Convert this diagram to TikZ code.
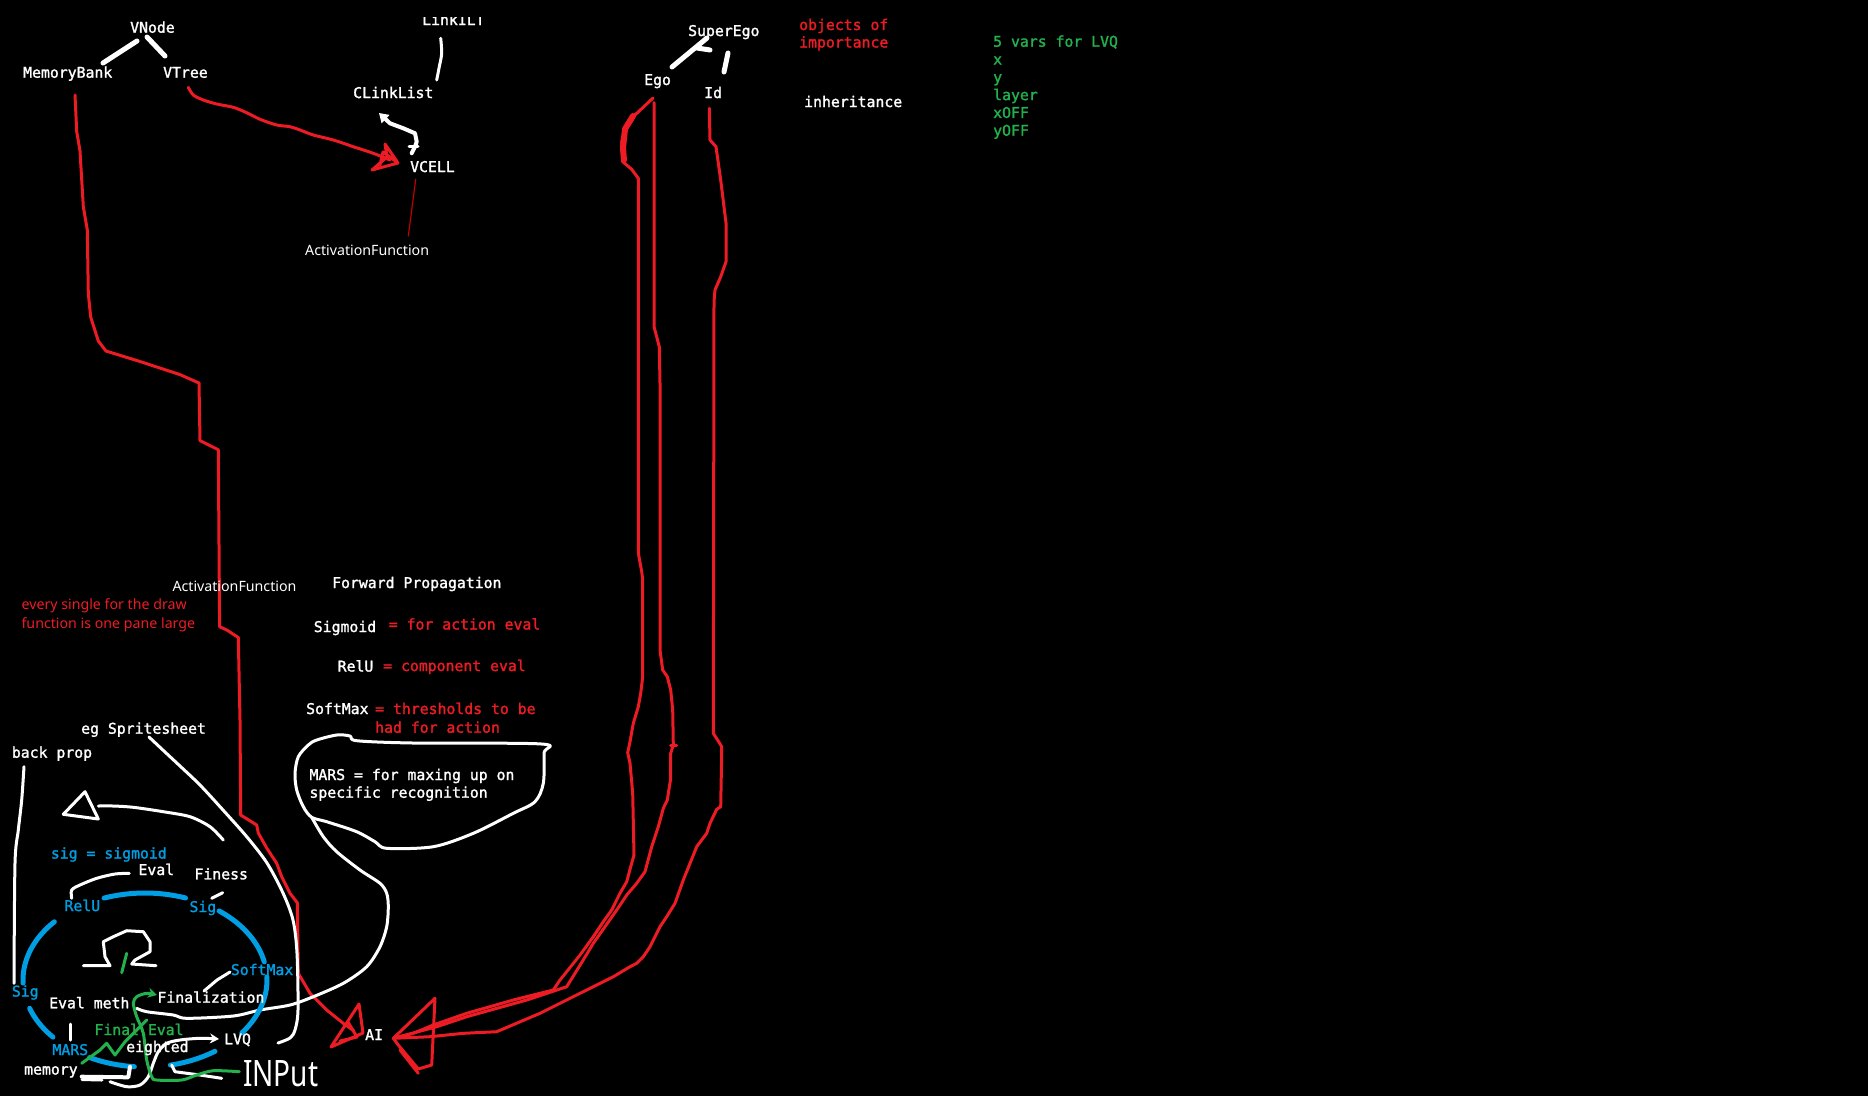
\documentclass[tikz,border=0pt]{standalone}
\usepackage{fontspec}
\newfontfamily\monof[FakeBold=1.6]{DejaVu Sans Mono}
\newfontfamily\sansf{Noto Sans}
\usetikzlibrary{arrows.meta}
\definecolor{redc}{RGB}{237,28,36}
\definecolor{bluec}{RGB}{0,158,226}
\definecolor{greenc}{RGB}{34,177,76}
\definecolor{dred}{RGB}{190,0,0}
\begin{document}
\begin{tikzpicture}[x=1pt,y=-1pt,line cap=round,line join=round,
  mt/.style={font=\monof\fontsize{14.8}{17}\selectfont,text=white,inner sep=0pt,anchor=base west},
  st/.style={font=\sansf\fontsize{14.2}{17}\selectfont,text=white,inner sep=0pt,anchor=base west},
  wl/.style={draw=white,line width=3pt},
  wt/.style={draw=white,line width=5pt},
  rl/.style={draw=redc,line width=3pt},
  bl/.style={draw=bluec,line width=5pt},
  gl/.style={draw=greenc,line width=3pt}]
\useasboundingbox (0,0) rectangle (1868,1096);
\fill[black] (0,0) rectangle (1868,1096);

% ---------- top tree ----------
\draw[wt] (103,63) -- (137,41);
\draw[wt] (147,37) -- (165,56);
\draw[wl] plot[smooth] coordinates {(440.7,38.3) (441.7,53.3) (439.3,66.7) (436.7,80)};
\draw[wl,line width=4pt,{Triangle[length=9pt,width=11pt]}-] (379,113) -- (390,123.3) -- (403.3,128.3) -- (415,133.3) -- (416.7,141.7) -- (415,146.7) -- (411.7,153.3);
\draw[wl] (409,146) -- (418,146);
% red VTree -> VCELL
\draw[rl] plot[smooth] coordinates {(188.3,87.3) (193.3,95) (203.3,100) (216.7,104) (233.3,107.3) (246.7,112.7) (260,119.3) (276.7,125) (290,126.7) (300,130) (313.3,135) (333.3,140) (353.3,146.7) (373.3,153.3) (390,160)};
\draw[rl] (398,163) -- (385,144) -- (387,157) -- (372,170) -- (398,163) -- (383,152) -- (380,165);
\draw[dred,line width=1.2pt] (415.7,179.3) -- (408.3,236);

% ---------- long red line from MemoryBank ----------
\draw[rl] (75,95) -- (76.7,131.4) -- (80,151) -- (83.3,206.5) -- (87.3,230) -- (88.3,293.5) -- (90.7,317) -- (98.3,341) -- (106,351) -- (140,361.5) -- (180,374.6) -- (199,383) -- (200,440.6) -- (218.3,449.7) -- (219.6,626.7) -- (226.8,630) -- (238.3,637.5) -- (240,720) -- (240.7,815) -- (256.7,825) -- (258.3,833) -- (266.7,848) -- (276.7,863.3) -- (281.7,876.7) -- (290,893.3) -- (297.3,902.7) -- (298.3,973.3) -- (310,993.3) -- (326.7,1010) -- (343.3,1023.3) -- (354,1031);
\draw[rl] (359,1004) -- (331,1047) -- (363,1033) -- cycle;
\draw[rl] (340,1041) -- (357,1037) -- (348,1022);

% ---------- SuperEgo / Ego / Id ----------
\draw[wt] (707,38) -- (672,67);
\draw[wt] (697,48) -- (710,50);
\draw[wt] (728,53) -- (724,72);
% line A
\draw[rl] (653,98) -- (635,115) -- (625,128) -- (621.7,141.7) -- (622.7,161.7) -- (631.7,169.3) -- (638.3,178.3) -- (638.3,553) -- (641.7,571.7) -- (642.7,580) -- (642.7,676.7) -- (640.7,693.3) -- (638.3,706.7) -- (633.3,723.3) -- (630,741.7) -- (627.7,752.7) -- (630,763.3) -- (632.7,793.3) -- (634,855) -- (630.7,866.7) -- (626.7,881.7) -- (620,893.3) -- (611.7,910) -- (603.3,921.7) -- (593.3,936.7) -- (580,955) -- (560,980) -- (553.3,990) -- (513.3,1000) -- (466.7,1013.3) -- (433.3,1025) -- (413.3,1033.3) -- (393.3,1038.3);
\draw[rl,line width=6pt] (633,116) -- (625,129) -- (623,148) -- (624,160);
% line B
\draw[rl] (654,102.7) -- (654,326.7) -- (659.3,346.7) -- (660,383.3) -- (660,650) -- (662.7,670) -- (667.3,676.7) -- (670.7,690) -- (672.7,710) -- (673.3,745) -- (670.7,753.3) -- (670.7,778.3) -- (667.3,800) -- (663.3,808.3) -- (658.3,826.7) -- (651.7,846.7) -- (645,871.7) -- (636.7,883.3) -- (626.7,895) -- (616.7,910) -- (605,926.7) -- (593.3,943.3) -- (582,962) -- (566.7,986.7) -- (526.7,1000) -- (466.7,1016.7) -- (436.7,1026.7) -- (393.3,1038.3);
\draw[rl] (670.7,745) -- (676.7,745);
% line C
\draw[rl] (709.3,108.3) -- (710,140) -- (716,146.7) -- (720.7,180) -- (726,223) -- (726,261.7) -- (720.7,276.7) -- (715,290) -- (714,301.7) -- (713.3,733.3) -- (719.3,742.7) -- (721.7,746.7) -- (721.7,753.3) -- (720.7,806.7) -- (716.7,809.3) -- (710,823.3) -- (706.7,833.3) -- (696.7,846.7) -- (683.3,880) -- (675,903.3) -- (666.7,916.7) -- (660,926.7) -- (650,946.7) -- (643.3,956.7) -- (636.7,963.3) -- (630,966.7) -- (613.3,976.7) -- (580,993.3) -- (540,1013.3) -- (496.7,1031.7) -- (463.3,1033.3) -- (430,1036.7) -- (393.3,1038.3);
\draw[rl] (393.3,1038.3) -- (435,998.3) -- (431.7,1065) -- (418.3,1069) -- (398.3,1045) -- (393.3,1038.3);
\draw[rl] (400,1050) -- (418.3,1073.3);

% ---------- bubble ----------
\draw[wl] plot[smooth cycle] coordinates {(316.7,740) (336.7,735) (350,736) (356.7,740.7) (413,743) (541.7,744) (544,753) (543.3,783.3) (535,801.7) (513.3,813.3) (473.3,833.3) (433.3,846.7) (386.7,848.3) (375,841.7) (356.7,831.7) (326.7,821.7) (311.7,817.3) (303.3,806.7) (296.7,790) (295,773.3) (298.3,756.7) (308.3,745)};
\draw[wl] plot[smooth] coordinates {(311.7,817.3) (323.3,836.7) (336.7,851.7) (360,870) (380,883.3) (386.7,893.3) (388.3,906.7) (386.7,926.7) (380,946.7) (366.7,966.7) (343.3,983.3) (313.3,996.7) (290,1005) (260,1010) (233.3,1016) (186.7,1018.3) (173.3,1015) (146.7,1011.7) (136.7,1008.3)};

% ---------- lower-left sketch ----------
\draw[wl] plot[smooth] coordinates {(24,766.7) (21.7,800) (18.3,830) (15,863.3) (14,983.3)};
\draw[wl] plot[smooth] coordinates {(149,737) (165,752) (180,766) (200,785) (223,810) (247,837) (267,863) (283,893) (293,920) (297,953) (298,1010) (295,1030) (290,1038) (278,1043)};
\draw[wl] plot[smooth] coordinates {(223.3,840) (210,826.7) (190,816.7) (163.3,811.7) (133.3,807.3) (113.3,806) (98.3,806)};
\draw[wl] (63.3,814.3) -- (85,791.7) -- (98.3,819) -- cycle;
\draw[wl] plot[smooth] coordinates {(129.3,873.3) (115,874) (96.7,878.3) (80,885) (71.7,890) (71.7,898.3)};
\draw[wl] (222.7,892.7) -- (211.7,898.3);
\draw[wl] (83.3,965.7) -- (110,965.7) -- (105,956.7) -- (103.3,941.7) -- (113.3,936.7) -- (126.7,930.7) -- (143.3,931.7) -- (150,941.7) -- (150,951.7) -- (135,960) -- (131.7,964) -- (156,965.7);
\draw[gl] (126.7,953.3) -- (121.7,972.7);
\draw[wl] (70.7,1024) -- (70.7,1040);
\draw[wl] (230,972) -- (217,980) -- (204,991);
% blue ellipse pieces
\draw[bl] plot[domain=-109.6:-70.6,samples=20] ({145+122*cos(\x)},{980+87*sin(\x)});
\draw[bl] plot[domain=-52.6:-12,samples=20] ({145+122*cos(\x)},{980+87*sin(\x)});
\draw[bl] plot[domain=-2:37.5,samples=20] ({145+122*cos(\x)},{980+87*sin(\x)});
\draw[bl] plot[domain=55:78,samples=12] ({145+122*cos(\x)},{980+87*sin(\x)});
\draw[bl] plot[domain=95:117,samples=12] ({145+122*cos(\x)},{980+87*sin(\x)});
\draw[bl] plot[domain=139:161,samples=12] ({145+122*cos(\x)},{980+87*sin(\x)});
\draw[bl] plot[domain=178:222,samples=20] ({145+122*cos(\x)},{980+87*sin(\x)});
% bottom white strokes
\draw[wl,line width=4pt] (81.7,1076.7) -- (128.3,1077.3) -- (130,1066.7);
\draw[wl] (82,1079.5) -- (102,1080);
\draw[wl,-{Stealth[length=9pt,width=10pt]}] plot[smooth] coordinates {(110,1081.7) (126.7,1086.7) (140,1085) (148.3,1076.7) (153.3,1063.3) (158.3,1051.7) (166.7,1043.3) (180,1040) (200,1038.3) (219,1039)};
\draw[wl] (171.7,1065) -- (175,1071.7) -- (200,1075) -- (221.7,1078.3);
% green strokes
\draw[gl] (81.7,1063.3) -- (100,1050) -- (106.7,1043.3) -- (115,1055) -- (125,1041.7) -- (146.7,1020);
\draw[gl,-{Stealth[length=9pt,width=10pt]}] plot[smooth] coordinates {(239.3,1071.7) (213.3,1070.7) (196.7,1075) (181.7,1080) (156.7,1080) (151.7,1076.7) (146.7,1060) (143.3,1033.3) (136.7,1016.7) (133.3,1003.3) (136.7,996.7) (146.7,993.3) (157,995)};

% ---------- texts ----------
\node[mt] (vnode) at (130,32.7) {VNode};
\node[mt] (memb) at (23,77.7) {MemoryBank};
\node[mt] (vtree) at (163,77.7) {VTree};
\begin{scope}
\clip (400,17) rectangle (500,40);
\node[mt] (linkilt) at (422,25) {LinkILT};
\end{scope}
\node[mt] (clink) at (353,98) {CLinkList};
\node[mt] (vcell) at (410,172) {VCELL};
\node[st] (actf1) at (305,255) {ActivationFunction};
\node[mt] (superego) at (688,36) {SuperEgo};
\node[mt] (ego) at (644,85) {Ego};
\node[mt] (idn) at (704,98) {Id};
\node[mt,text=redc] (objA) at (799,30) {objects of};
\node[mt,text=redc] (objB) at (799,47.5) {importance};
\node[mt] (inher) at (804,107) {inheritance};
\node[mt,text=greenc] (v0) at (993,46.7) {5 vars for LVQ};
\node[mt,text=greenc] (v1) at (993,64.5) {x};
\node[mt,text=greenc] (v2) at (993,82.3) {y};
\node[mt,text=greenc] (v3) at (993,100.1) {layer};
\node[mt,text=greenc] (v4) at (993,117.9) {xOFF};
\node[mt,text=greenc] (v5) at (993,135.7) {yOFF};

\node[st] (actf2) at (172.3,591.7) {ActivationFunction};
\node[st,text=redc] (ev1) at (21.4,609) {every single for the draw};
\node[st,text=redc] (ev2) at (21.4,628) {function is one pane large};
\node[mt] (fwd) at (332,588) {Forward Propagation};
\node[mt] (sigm) at (313.6,632) {Sigmoid};
\node[mt,text=redc] (sigmd) at (388.6,629.5) {= for action eval};
\node[mt] (relu1) at (337.5,671.5) {RelU};
\node[mt,text=redc] (relud) at (383,671) {= component eval};
\node[mt] (softm) at (306,714) {SoftMax};
\node[mt,text=redc] (softd1) at (375,714) {= thresholds to be};
\node[mt,text=redc] (softd2) at (375,732.7) {had for action};
\node[mt] (mars1) at (309.3,780) {MARS = for maxing up on};
\node[mt] (mars2) at (309.3,797.7) {specific recognition};

\node[mt] (egs) at (81,733.7) {eg Spritesheet};
\node[mt] (bprop) at (11.7,757.7) {back prop};
\node[mt,text=bluec] (sigeq) at (50.7,858.5) {sig = sigmoid};
\node[mt] (eval) at (138.3,875) {Eval};
\node[mt] (finess) at (194.3,879.3) {Finess};
\node[mt,text=bluec] (relu2) at (64.3,911) {RelU};
\node[mt,text=bluec] (sig2) at (189.3,912) {Sig};
\node[mt,text=bluec] (softm2) at (230.7,975) {SoftMax};
\node[mt,text=bluec] (sig3) at (11.7,996.5) {Sig};
\node[mt] (evalm) at (49,1008.3) {Eval meth};
\node[mt] (final) at (157.3,1002.7) {Finalization};
\node[mt,text=greenc] (finev) at (94.3,1035) {Final Eval};
\node[mt,text=bluec] (mars3) at (52.3,1055) {MARS};
\node[mt] (eight) at (126,1052) {eighted};
\node[mt] (lvq) at (224,1044.3) {LVQ};
\node[mt] (memory) at (24,1074.5) {memory};
\node[mt] (ai) at (365,1040) {AI};
\node[font=\sansf\fontsize{28}{28}\selectfont,text=white,inner sep=0pt,anchor=base west] (input) at (243,1086) {\scalebox{1}[1.3]{INPut}};
\end{tikzpicture}
\end{document}
